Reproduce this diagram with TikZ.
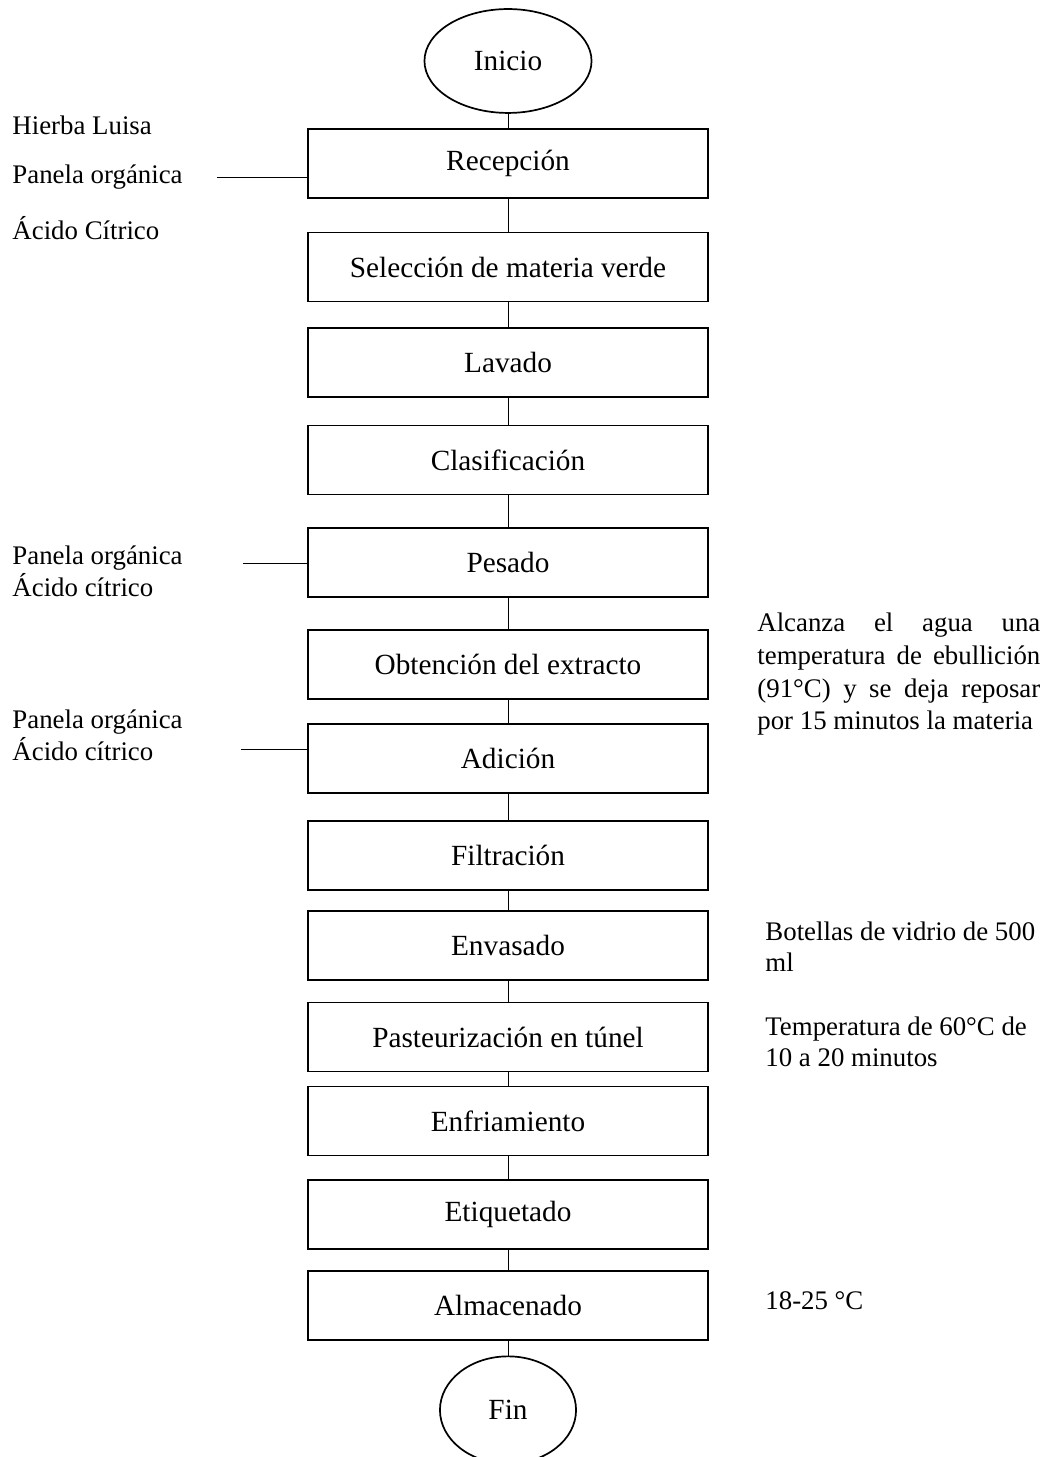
\documentclass[tikz,border=0pt]{standalone}
\usepackage{fontspec}
\setmainfont{Liberation Serif}
\usetikzlibrary{positioning,shapes.geometric}
\tikzset{
  stepbox/.style={draw=black, line width=0.7pt, minimum width=164pt, minimum height=28.3pt, inner sep=0pt, align=center, font=\fontsize{12}{14}\selectfont},
  terminal/.style={ellipse, draw=black, line width=0.7pt, inner sep=0pt, font=\fontsize{12}{14}\selectfont},
  note/.style={inner sep=0pt, align=left, font=\fontsize{11}{13}\selectfont},
  link/.style={line width=0.4pt, draw=black}
}

\begin{document}
\begin{tikzpicture}[x=0.41pt, y=-0.41pt, node distance=23pt]
  \useasboundingbox (0,0) rectangle (1052,1457);
  % main line
  \node[terminal, minimum width=68.5pt, minimum height=42.6pt] (ini) at (508,61) {Inicio};
  \node[stepbox] (recep) at (508,163.5) {Recepción};
  \node[stepbox] (selec) at (508,267) {Selección de materia verde};
  \node[stepbox] (lavado) at (508,362.5) {Lavado};
  \node[stepbox] (clasif) at (508,460) {Clasificación};
  \node[stepbox] (pesado) at (508,562.5) {Pesado};
  \node[stepbox] (obten) at (508,664.5) {Obtención del extracto};
  \node[stepbox] (adic) at (508,758.5) {Adición};
  \node[stepbox] (filtr) at (508,855.5) {Filtración};
  \node[stepbox] (envas) at (508,945.5) {Envasado};
  \node[stepbox] (paste) at (508,1037) {Pasteurización en túnel};
  \node[stepbox] (enfri) at (508,1121) {Enfriamiento};
  \node[stepbox] (etiq) at (508,1214.5) {Etiquetado};
  \node[stepbox] (almac) at (508,1305.5) {Almacenado};
  \node[terminal, minimum width=55.8pt, minimum height=44pt] (fin) at (508,1410) {Fin};

  \draw[link] (ini) -- (recep);
  \draw[link] (recep) -- (selec);
  \draw[link] (selec) -- (lavado);
  \draw[link] (lavado) -- (clasif);
  \draw[link] (clasif) -- (pesado);
  \draw[link] (pesado) -- (obten);
  \draw[link] (obten) -- (adic);
  \draw[link] (adic) -- (filtr);
  \draw[link] (filtr) -- (envas);
  \draw[link] (envas) -- (paste);
  \draw[link] (paste) -- (enfri);
  \draw[link] (enfri) -- (etiq);
  \draw[link] (etiq) -- (almac);
  \draw[link] (almac) -- (fin);

  % inputs on the left
  \node[note, anchor=west] (hierba) at (12,125) {Hierba Luisa};
  \node[note, anchor=west] (panela) at (12,177) {Panela orgánica};
  \node[note, anchor=west] (acido) at (12,228) {Ácido Cítrico};
  \node[note, anchor=west] (insum2) at (12,571) {Panela orgánica\\Ácido cítrico};
  \node[note, anchor=west] (insum3) at (12,735) {Panela orgánica\\Ácido cítrico};
  \coordinate (in1) at (217,177);
  \coordinate (in2) at (243,563);
  \coordinate (in3) at (241,749);
  \draw[link] (in1) -- (in1 -| recep.west);
  \draw[link] (in2) -- (in2 -| pesado.west);
  \draw[link] (in3) -- (in3 -| adic.west);

  % notes on the right
  \node[note, right=19.7pt of obten, yshift=-4pt, text width=116pt, align=justify, font=\fontsize{11}{13.4}\selectfont] (ebull) {Alcanza el agua una\linebreak temperatura de ebullición\linebreak (91°C) y se deja reposar\linebreak por 15 minutos la materia};
  \node[note, right=23pt of envas, yshift=-0.5pt] (botel) {Botellas de vidrio de 500\\ml};
  \node[note, right=23pt of paste, yshift=-2pt] (tempe) {Temperatura de 60°C de\\10 a 20 minutos};
  \node[note, right=23pt of almac, yshift=2pt] (almtemp) {18-25 °C};
\end{tikzpicture}
\end{document}
